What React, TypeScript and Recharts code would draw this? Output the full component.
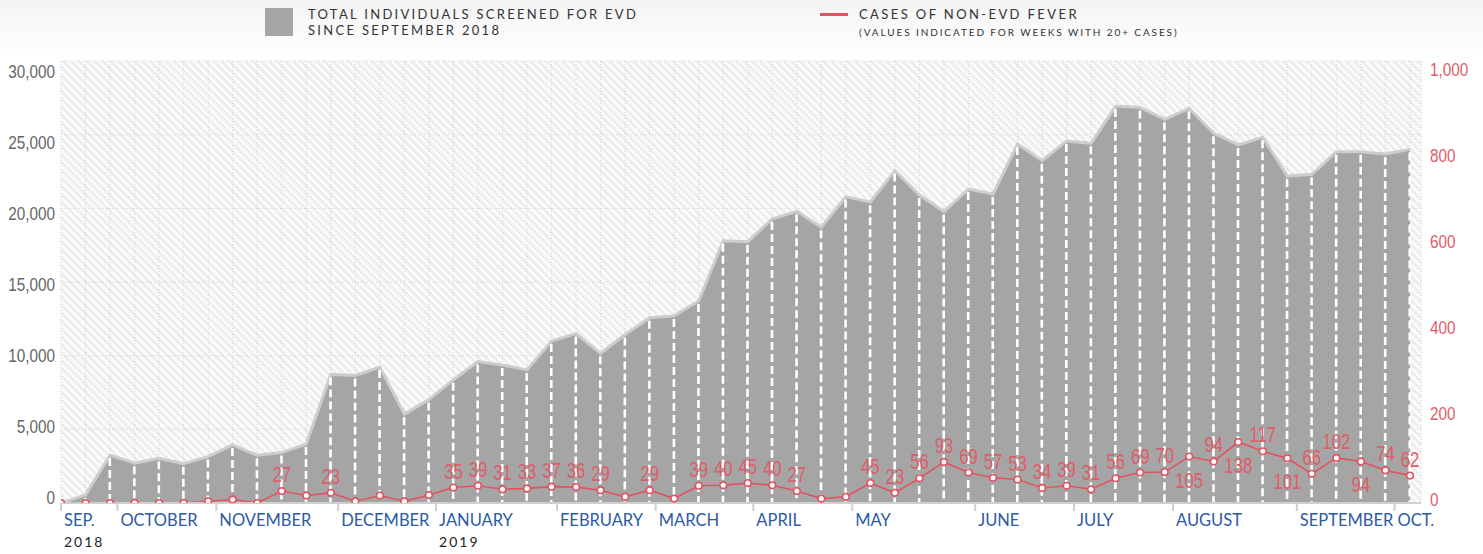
import React from 'react';
import { ComposedChart, Area, Bar, Line, XAxis, YAxis, CartesianGrid, LabelList } from 'recharts';

const weeks = [0, 1, 2, 3, 4, 5, 6, 7, 8, 9, 10, 11, 12, 13, 14, 15, 16, 17, 18, 19, 20, 21, 22, 23, 24, 25, 26, 27, 28, 29, 30, 31, 32, 33, 34, 35, 36, 37, 38, 39, 40, 41, 42, 43, 44, 45, 46, 47, 48, 49, 50, 51, 52, 53, 54, 55];

const screened = [0, 550, 3260, 2700, 3040, 2660, 3150, 3940, 3240, 3420, 4000, 8730, 8660, 9230, 6030, 7020, 8370, 9600, 9370, 9030, 10990, 11500, 10160, 11440, 12570, 12700, 13710, 17800, 17740, 19280, 19800, 18720, 20800, 20420, 22560, 20900, 19780, 21310, 20970, 24370, 23230, 24570, 24410, 26940, 26850, 26040, 26790, 25090, 24300, 24820, 22190, 22310, 23840, 23840, 23690, 24000];

const fever = [0, 0, 0, 0, 0, 0, 4, 8, 0, 27, 17, 23, 4, 17, 4, 18, 35, 39, 31, 33, 37, 36, 29, 14, 29, 10, 39, 40, 45, 40, 27, 10, 14, 45, 23, 56, 93, 69, 57, 53, 34, 39, 31, 56, 69, 70, 105, 94, 138, 117, 101, 66, 102, 94, 74, 62];

const labelBelowWeeks = [46, 48, 50, 53];

const monthTicks = [0, 2.28, 6.28, 11.21, 15.17, 20.06, 24.05, 28.0, 32.0, 36.97, 40.97, 44.97, 49.98, 53.93];
const monthNames = ['SEP.', 'OCTOBER', 'NOVEMBER', 'DECEMBER', 'JANUARY', 'FEBRUARY', 'MARCH', 'APRIL', 'MAY', 'JUNE', 'JULY', 'AUGUST', 'SEPTEMBER', 'OCT.'];
const yearLabels = ['2018', '', '', '', '2019', '', '', '', '', '', '', '', '', ''];

const leftTicks = [0, 5000, 10000, 15000, 20000, 25000, 30000];
const rightTicks = [0, 200, 400, 600, 800, 1000];

const data = weeks.map((w, i) => ({ week: w, screened: screened[i], fever: fever[i] }));

const RED = '#e2525f';
const RED_TEXT = '#e05c68';
const BLUE = '#2c5ba5';
const NUM_FONT = '"Liberation Sans", Arial, sans-serif';
const TEXT_FONT = 'Lato, "Noto Sans", sans-serif';

const fmt = (v: number) => v.toLocaleString('en-US');

const LeftTick = (props: any) => {
  const { x, y, payload } = props;
  const frac = 1 - payload.value / 30000;
  const ty = y + 11 - frac * 16;
  return (
    <text transform={`translate(${x},${ty}) scale(0.85,1)`} dy="0.35em" textAnchor="end" fill="#666" fontSize={18} fontFamily={NUM_FONT}>
      {fmt(payload.value)}
    </text>
  );
};

const RightTick = (props: any) => {
  const { x, y, payload } = props;
  const frac = 1 - payload.value / 1000;
  const ty = y + 9 - frac * 12;
  return (
    <text transform={`translate(${x},${ty}) scale(0.85,1)`} dy="0.35em" textAnchor="start" fill={RED_TEXT} fontSize={18} fontFamily={NUM_FONT}>
      {fmt(payload.value)}
    </text>
  );
};

const MonthTick = (props: any) => {
  const { x, y, payload } = props;
  const i = monthTicks.indexOf(payload.value);
  return (
    <g>
      <text x={x + 3} y={y + 13} fill={BLUE} fontSize={16.5} fontFamily={TEXT_FONT}>
        {monthNames[i]}
      </text>
      {yearLabels[i] ? (
        <text x={x + 3} y={y + 34} fill="#222" fontSize={14} letterSpacing={2} fontFamily={TEXT_FONT}>
          {yearLabels[i]}
        </text>
      ) : null}
    </g>
  );
};

const DashShape = (props: any) => {
  const { x, y, width, height } = props;
  if (!height || height <= 0) return null;
  const cx = x + width / 2;
  return <line x1={cx} x2={cx} y1={y + 3} y2={y + height} stroke="#ffffff" strokeWidth={2.6} strokeDasharray="8 4" />;
};

const FeverLabel = (props: any) => {
  const { x, y, value, index } = props;
  if (value == null || value < 20) return null;
  const below = labelBelowWeeks.includes(weeks[index]);
  const ty = below ? y + 31 : y - 9;
  return (
    <text transform={`translate(${x},${ty}) scale(0.76,1)`} textAnchor="middle" fill={RED_TEXT} fontSize={22} fontFamily={NUM_FONT}>
      {value}
    </text>
  );
};

export default function App() {
  return (
    <div
      style={{
        position: 'absolute',
        left: 0,
        top: 0,
        width: 1483,
        height: 554,
        background: 'linear-gradient(to bottom, #f4f4f4 0px, #ffffff 58px)',
        overflow: 'hidden',
      }}
    >
      <div style={{ position: 'absolute', left: 265, top: 8, width: 28, height: 28, background: '#a6a6a6' }} />
      <div
        style={{
          position: 'absolute',
          left: 308,
          top: 6,
          fontFamily: TEXT_FONT,
          fontSize: 13,
          lineHeight: '16px',
          letterSpacing: 2.3,
          color: '#333',
          whiteSpace: 'nowrap',
        }}
      >
        TOTAL INDIVIDUALS SCREENED FOR EVD
        <br />
        SINCE SEPTEMBER 2018
      </div>
      <div style={{ position: 'absolute', left: 820, top: 13, width: 28, height: 3, background: RED }} />
      <div
        style={{
          position: 'absolute',
          left: 859,
          top: 6,
          fontFamily: TEXT_FONT,
          fontSize: 13,
          lineHeight: '16px',
          letterSpacing: 2.4,
          color: '#333',
          whiteSpace: 'nowrap',
        }}
      >
        CASES OF NON-EVD FEVER
      </div>
      <div
        style={{
          position: 'absolute',
          left: 859,
          top: 26,
          fontFamily: TEXT_FONT,
          fontSize: 10,
          lineHeight: '12px',
          letterSpacing: 1.9,
          color: '#333',
          whiteSpace: 'nowrap',
        }}
      >
        (VALUES INDICATED FOR WEEKS WITH 20+ CASES)
      </div>
      <div style={{ position: 'absolute', left: 0, top: 0 }}>
        <ComposedChart width={1483} height={554} data={data} margin={{ top: 61, right: 0, bottom: 0, left: 0 }}>
          <defs>
            <pattern id="hatch" width="5.6" height="5.6" patternUnits="userSpaceOnUse" patternTransform="rotate(-45)">
              <rect width="5.6" height="5.6" fill="#fcfcfc" />
              <rect width="2.8" height="5.6" fill="#ededed" />
            </pattern>
          </defs>
          <CartesianGrid
            xAxisId="weeks"
            yAxisId="left"
            stroke="#d2d2d2"
            strokeDasharray="1 2"
            fill="url(#hatch)"
            fillOpacity={1}
          />
          <XAxis
            xAxisId="weeks"
            dataKey="week"
            type="number"
            domain={[0, 55.45]}
            ticks={weeks}
            interval={0}
            allowDataOverflow
            hide
          />
          <XAxis
            xAxisId="months"
            type="number"
            domain={[0, 55.45]}
            ticks={monthTicks}
            interval={0}
            allowDataOverflow
            height={51}
            tickSize={8}
            tickMargin={2}
            tick={MonthTick}
            axisLine={{ stroke: '#cfcfcf', strokeWidth: 2 }}
            tickLine={{ stroke: '#cfcfcf', strokeWidth: 2 }}
          />
          <YAxis
            yAxisId="left"
            domain={[0, 30000]}
            ticks={leftTicks}
            interval={0}
            width={61}
            tickSize={0}
            tickMargin={6}
            axisLine={false}
            tickLine={false}
            tick={LeftTick}
            allowDataOverflow
          />
          <YAxis
            yAxisId="right"
            orientation="right"
            domain={[0, 1000]}
            ticks={rightTicks}
            interval={0}
            width={62}
            tickSize={0}
            tickMargin={9}
            axisLine={false}
            tickLine={false}
            tick={RightTick}
            allowDataOverflow
          />
          <Area
            xAxisId="weeks"
            yAxisId="left"
            dataKey="screened"
            type="linear"
            fill="#a5a5a5"
            fillOpacity={1}
            stroke="#cdcdcd"
            strokeWidth={3}
            dot={false}
            activeDot={false}
            isAnimationActive={false}
          />
          <Bar
            xAxisId="weeks"
            yAxisId="left"
            dataKey="screened"
            barSize={2}
            shape={DashShape}
            isAnimationActive={false}
          />
          <Line
            xAxisId="weeks"
            yAxisId="right"
            dataKey="fever"
            type="linear"
            stroke={RED}
            strokeWidth={1.6}
            dot={{ r: 3.3, fill: '#ffffff', stroke: RED, strokeWidth: 1.6 }}
            activeDot={false}
            isAnimationActive={false}
          >
            <LabelList dataKey="fever" content={FeverLabel} />
          </Line>
        </ComposedChart>
      </div>
    </div>
  );
}
